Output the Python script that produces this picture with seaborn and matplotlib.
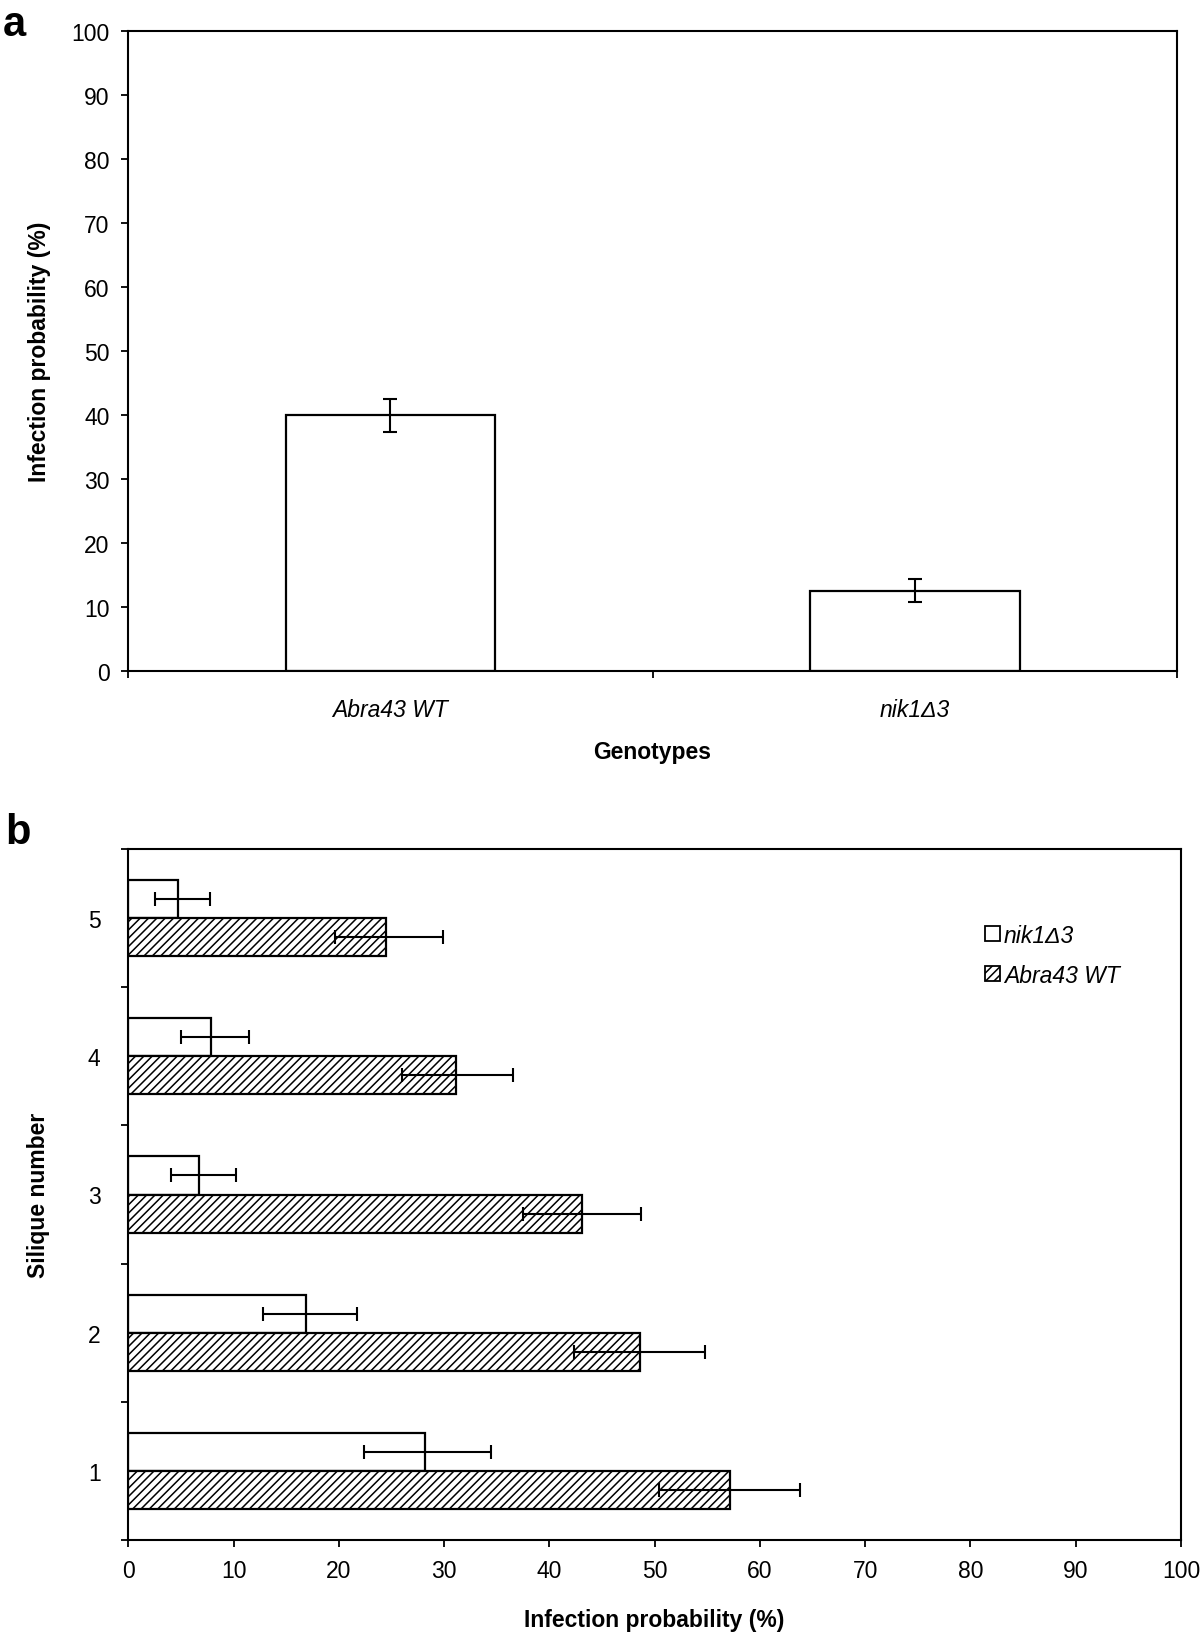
import matplotlib
matplotlib.use("Agg")
import matplotlib.pyplot as plt
import seaborn as sns
import pandas as pd
from matplotlib.patches import Patch

# panel a data
genotypes = ["Abra43 WT", "nik1Δ3"]
prob_a = [40.0, 12.5]
err_a_low = [37.3, 10.7]
err_a_high = [42.5, 14.3]

# panel b data (silique 1..5)
siliques = ["1", "2", "3", "4", "5"]
nik_vals = [28.2, 16.9, 6.7, 7.85, 4.7]
nik_low = [22.4, 12.8, 4.1, 5.0, 2.5]
nik_high = [34.5, 21.7, 10.2, 11.5, 7.8]
wt_vals = [57.2, 48.6, 43.1, 31.1, 24.5]
wt_low = [50.4, 42.3, 37.5, 26.0, 19.6]
wt_high = [63.8, 54.8, 48.75, 36.5, 29.9]
series_b = ["nik1Δ3", "Abra43 WT"]

sns.set_style("white")
plt.rcParams["font.family"] = ["Liberation Sans", "DejaVu Sans"]
plt.rcParams["hatch.linewidth"] = 1.1
plt.rcParams["text.color"] = "black"
plt.rcParams["xtick.color"] = "black"
plt.rcParams["ytick.color"] = "black"

TICK_FS = 16.5
LABEL_FS = 16.5

W, H = 1200, 1633
fig = plt.figure(figsize=(W / 100, H / 100), dpi=100)

def fig_axes(l, t, r, b):
    return fig.add_axes([l / W, 1 - b / H, (r - l) / W, (b - t) / H])

def style_axes(ax):
    for s in ax.spines.values():
        s.set_visible(True)
        s.set_linewidth(1.5)
        s.set_color("black")
    ax.tick_params(which="major", direction="out", length=5, width=1.3,
                   color="black", labelcolor="black", labelsize=TICK_FS,
                   left=True, bottom=True)

# ---------- panel a ----------
ax1 = fig_axes(128.3, 32.3, 1177, 671.7)
df_a = pd.DataFrame({"genotype": genotypes, "prob": prob_a})
sns.barplot(data=df_a, x="genotype", y="prob", color="white", edgecolor="black",
            linewidth=1.6, width=0.4, errorbar=None, ax=ax1)
for bar, v, lo, hi in zip(ax1.patches, prob_a, err_a_low, err_a_high):
    xc = bar.get_x() + bar.get_width() / 2
    ax1.errorbar(xc, v, yerr=[[v - lo], [hi - v]], fmt="none", ecolor="black",
                 elinewidth=1.5, capsize=5, capthick=1.5)
ax1.set_xlim(-0.5, 1.5)
ax1.set_ylim(0, 100)
ax1.set_yticks(range(0, 101, 10))
ax1.set_xticks([-0.5, 0.5, 1.5])
ax1.set_xticklabels([])
ax1.set_xticks([0, 1], minor=True)
ax1.set_xticklabels(genotypes, minor=True, style="italic", fontsize=TICK_FS,
                    color="black")
style_axes(ax1)
ax1.tick_params(axis="x", which="minor", length=0, pad=20)
ax1.tick_params(axis="y", pad=8.5)
ax1.set_xlabel("")
ax1.set_ylabel("")
fig.text(40 / W, 1 - 352 / H, "Infection probability (%)", rotation=90,
         ha="center", va="center", fontsize=LABEL_FS, fontweight="bold")
fig.text(652 / W, 1 - 752 / H, "Genotypes", ha="center", va="center",
         fontsize=LABEL_FS, fontweight="bold")
fig.text(3 / W, 1 - 36 / H, "a", ha="left", va="baseline", fontsize=30,
         fontweight="bold")

# ---------- panel b ----------
ax2 = fig_axes(128.3, 850, 1181, 1541)
df_b = pd.DataFrame({
    "silique": siliques * 2,
    "prob": nik_vals + wt_vals,
    "genotype": [series_b[0]] * 5 + [series_b[1]] * 5,
})
order_b = siliques[::-1]
sns.barplot(data=df_b, y="silique", x="prob", hue="genotype", order=order_b,
            hue_order=series_b, orient="h", width=0.55, palette=["white", "white"],
            edgecolor="black", linewidth=1.6, errorbar=None, legend=False, ax=ax2)

lows = {series_b[0]: nik_low, series_b[1]: wt_low}
highs = {series_b[0]: nik_high, series_b[1]: wt_high}
vals = {series_b[0]: nik_vals, series_b[1]: wt_vals}
for cont, name in zip(ax2.containers, series_b):
    for bar, sil in zip(cont, order_b):
        i = siliques.index(sil)
        if name == series_b[1]:
            bar.set_hatch("////")
        yc = bar.get_y() + bar.get_height() / 2
        v = vals[name][i]
        ax2.errorbar(v, yc, xerr=[[v - lows[name][i]], [highs[name][i] - v]],
                     fmt="none", ecolor="black", elinewidth=1.5, capsize=5,
                     capthick=1.5)

ax2.set_xlim(0, 100)
ax2.set_xticks(range(0, 101, 10))
ax2.set_ylim(4.5, -0.5)
ax2.set_yticks([i - 0.5 for i in range(6)])
ax2.set_yticklabels([])
ax2.set_yticks(range(5), minor=True)
ax2.set_yticklabels(order_b, minor=True, fontsize=TICK_FS, color="black")
style_axes(ax2)
ax2.tick_params(axis="y", which="minor", length=0, pad=20)
ax2.tick_params(axis="x", pad=9)
ax2.set_xlabel("")
ax2.set_ylabel("")
fig.text(39 / W, 1 - 1195 / H, "Silique number", rotation=90, ha="center",
         va="center", fontsize=LABEL_FS, fontweight="bold")
fig.text(654 / W, 1 - 1621 / H, "Infection probability (%)", ha="center",
         va="center", fontsize=LABEL_FS, fontweight="bold")
fig.text(5 / W, 1 - 844 / H, "b", ha="left", va="baseline", fontsize=30,
         fontweight="bold")

handles = [Patch(facecolor="white", edgecolor="black", linewidth=1.3),
           Patch(facecolor="white", edgecolor="black", linewidth=1.3, hatch="////")]
ax2.legend(handles, series_b, loc="upper left", bbox_to_anchor=(964 / W, 1 - 904 / H),
           bbox_transform=fig.transFigure, frameon=False,
           prop={"style": "italic", "size": 16.5}, handlelength=0.65,
           handleheight=0.65, handletextpad=0.2, labelspacing=0.75)

fig.savefig("out.png", dpi=100)
